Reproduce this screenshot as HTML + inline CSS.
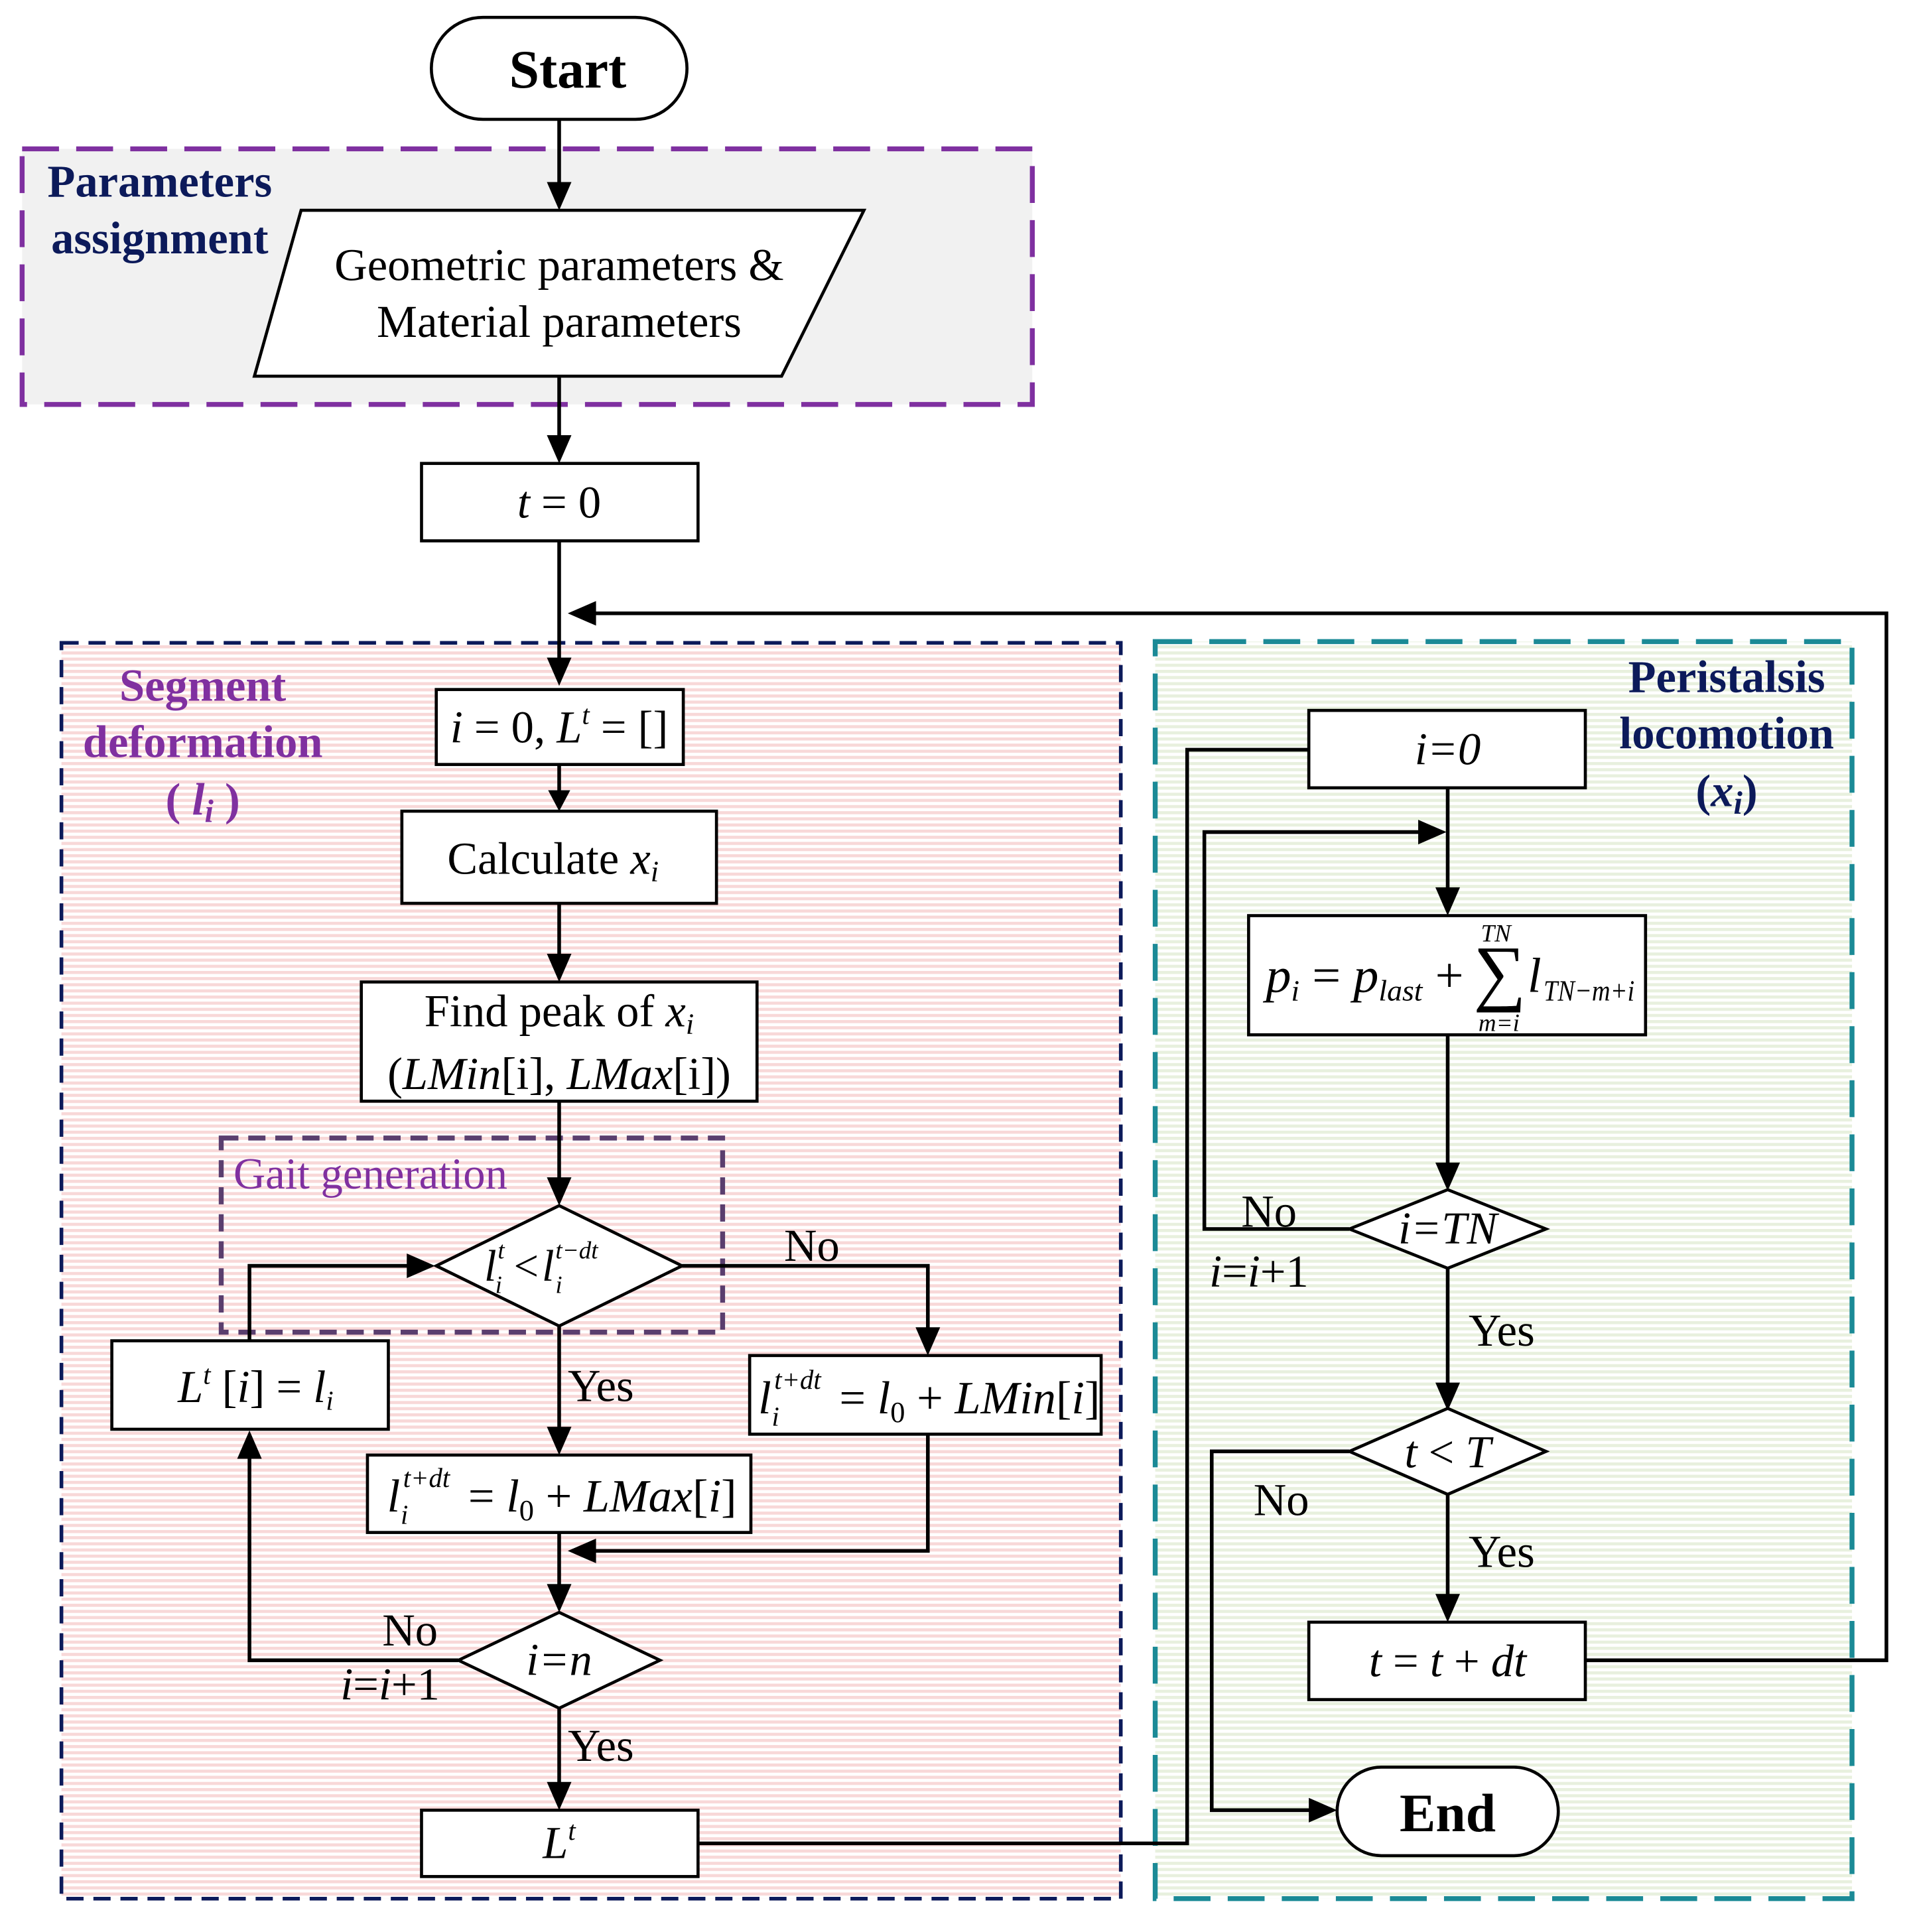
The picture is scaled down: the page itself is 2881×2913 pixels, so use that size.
<!DOCTYPE html>
<html><head><meta charset="utf-8"><style>
html,body{margin:0;padding:0;background:#fff;}
svg{display:block;}
text{font-family:"Liberation Serif",serif;fill:#000;}
.i{font-style:italic;}
</style></head><body>
<svg width="2881" height="2913" viewBox="0 0 1555 1572" xmlns="http://www.w3.org/2000/svg">
<defs>
<pattern id="pk" width="8" height="5" patternUnits="userSpaceOnUse"><rect width="8" height="5" fill="#fff"/><rect width="8" height="2.5" fill="#f8d8d8"/></pattern>
<pattern id="gr" width="8" height="5" patternUnits="userSpaceOnUse"><rect width="8" height="5" fill="#fff"/><rect width="8" height="2.5" fill="#e8f0de"/></pattern>
</defs>

<rect x="18" y="121" width="822" height="208" fill="#f1f1f1" stroke="#7f30a0" stroke-width="4" stroke-dasharray="30 14"/>
<rect x="50" y="523" width="862" height="1022" fill="url(#pk)" stroke="#0c1a5a" stroke-width="3" stroke-dasharray="14 8"/>
<rect x="940" y="522" width="567" height="1023" fill="url(#gr)" stroke="#1b8a96" stroke-width="4" stroke-dasharray="30 14"/>
<rect x="180" y="926" width="408" height="158" fill="none" stroke="#5a3e6e" stroke-width="4" stroke-dasharray="14 8"/>

<g font-weight="bold" font-size="37" text-anchor="middle">
<text x="130" y="160" style="fill:#0c1a5a">Parameters</text>
<text x="130" y="206" style="fill:#0c1a5a">assignment</text>
<text x="165" y="570" style="fill:#8030a0">Segment</text>
<text x="165" y="616" style="fill:#8030a0">deformation</text>
<text x="165" y="663" style="fill:#8030a0">( <tspan class="i">l</tspan><tspan class="i" font-size="26" dy="6">i</tspan><tspan dy="-6"> )</tspan></text>
<text x="1405" y="563" style="fill:#0c1a5a">Peristalsis</text>
<text x="1405" y="609" style="fill:#0c1a5a">locomotion</text>
<text x="1405" y="656" style="fill:#0c1a5a">(<tspan class="i">x</tspan><tspan class="i" font-size="26" dy="6">i</tspan><tspan dy="-6">)</tspan></text>
</g>
<text x="190" y="967" font-size="36" style="fill:#8030a0">Gait generation</text>

<g stroke="#000" stroke-width="3" fill="none">
<line x1="455" y1="97" x2="455" y2="150"/>
<line x1="455" y1="306" x2="455" y2="356"/>
<line x1="455" y1="440" x2="455" y2="537"/>
<polyline points="1291,1351 1535,1351 1535,499 482,499"/>
<line x1="455" y1="622" x2="455" y2="645"/>
<line x1="455" y1="735" x2="455" y2="778"/>
<line x1="455" y1="896" x2="455" y2="960"/>
<polyline points="555,1030 755,1030 755,1082"/>
<line x1="455" y1="1079" x2="455" y2="1163"/>
<polyline points="755,1167 755,1262 482,1262"/>
<line x1="455" y1="1247" x2="455" y2="1291"/>
<polyline points="373,1351 203,1351 203,1185"/>
<polyline points="203,1091 203,1030 333,1030"/>
<line x1="455" y1="1390" x2="455" y2="1452"/>
<polyline points="568,1500 966,1500 966,610 1065,610"/>
<line x1="1178" y1="641" x2="1178" y2="724"/>
<polyline points="1098,1000 980,1000 980,677 1156,677"/>
<line x1="1178" y1="842" x2="1178" y2="948"/>
<line x1="1178" y1="1032" x2="1178" y2="1127"/>
<polyline points="1098,1181 986,1181 986,1473 1067,1473"/>
<line x1="1178" y1="1216" x2="1178" y2="1299"/>
</g>
<g fill="#000">
<polygon points="445,148 465,148 455,171"/>
<polygon points="445,354 465,354 455,377"/>
<polygon points="445,535 465,535 455,558"/>
<polygon points="485,489 485,509 462,499"/>
<polygon points="446,643 464,643 455,660"/>
<polygon points="445,776 465,776 455,799"/>
<polygon points="445,958 465,958 455,981"/>
<polygon points="745,1080 765,1080 755,1103"/>
<polygon points="445,1161 465,1161 455,1184"/>
<polygon points="485,1252 485,1272 462,1262"/>
<polygon points="445,1289 465,1289 455,1312"/>
<polygon points="193,1187 213,1187 203,1164"/>
<polygon points="331,1020 331,1040 354,1030"/>
<polygon points="445,1450 465,1450 455,1473"/>
<polygon points="1168,722 1188,722 1178,745"/>
<polygon points="1154,667 1154,687 1177,677"/>
<polygon points="1168,946 1188,946 1178,969"/>
<polygon points="1168,1125 1188,1125 1178,1148"/>
<polygon points="1065,1463 1065,1483 1088,1473"/>
<polygon points="1168,1297 1188,1297 1178,1320"/>
</g>

<g stroke="#000" stroke-width="2.5" fill="#fff">
<rect x="351" y="14" width="208" height="83" rx="42"/>
<polygon points="245,171 703,171 636,306 207,306"/>
<rect x="343" y="377" width="225" height="63"/>
<rect x="355" y="561" width="201" height="61"/>
<rect x="327" y="660" width="256" height="75"/>
<rect x="294" y="799" width="322" height="97"/>
<polygon points="355,1030 455,981 555,1030 455,1079"/>
<rect x="610" y="1103" width="286" height="64"/>
<rect x="299" y="1184" width="312" height="63"/>
<polygon points="373,1351 455,1312 537,1351 455,1390"/>
<rect x="91" y="1091" width="225" height="72"/>
<rect x="343" y="1473" width="225" height="54"/>
<rect x="1065" y="578" width="225" height="63"/>
<rect x="1016" y="745" width="323" height="97"/>
<polygon points="1098,1000 1178,968 1258,1000 1178,1032"/>
<polygon points="1098,1181 1178,1146 1258,1181 1178,1216"/>
<rect x="1065" y="1320" width="225" height="63"/>
<rect x="1088" y="1438" width="180" height="72" rx="36"/>
</g>

<g font-size="37" text-anchor="middle">
<text x="462" y="71" font-size="44" font-weight="bold">Start</text>
<text x="455" y="228">Geometric parameters  &amp;</text>
<text x="455" y="274">Material parameters</text>
<text x="455" y="421"><tspan class="i">t</tspan> = 0</text>
<text x="455" y="604"><tspan class="i">i</tspan> = 0, <tspan class="i">L</tspan><tspan class="i" font-size="22" dy="-15">t</tspan><tspan dy="15"> = []</tspan></text>
<text x="450" y="711">Calculate <tspan class="i">x</tspan><tspan class="i" font-size="24" dy="6">i</tspan></text>
<text x="455" y="835">Find peak of <tspan class="i">x</tspan><tspan class="i" font-size="24" dy="6">i</tspan></text>
<text x="455" y="886">(<tspan class="i">LMin</tspan>[i], <tspan class="i">LMax</tspan>[i])</text>
<text x="455" y="1363" class="i">i=n</text>
<text x="208" y="1141"><tspan class="i">L</tspan><tspan class="i" font-size="22" dy="-15">t</tspan><tspan dy="15"> [</tspan><tspan class="i">i</tspan>] = <tspan class="i">l</tspan><tspan class="i" font-size="22" dy="6">i</tspan></text>
<text x="455" y="1512"><tspan class="i">L</tspan><tspan class="i" font-size="22" dy="-15">t</tspan></text>
<text x="1178" y="622" class="i">i=0</text>
<text x="1178" y="1012" class="i">i=TN</text>
<text x="1178" y="1194"><tspan class="i">t</tspan> &lt; <tspan class="i">T</tspan></text>
<text x="1178" y="1364"><tspan class="i">t</tspan> = <tspan class="i">t</tspan> + <tspan class="i">dt</tspan></text>
<text x="1178" y="1490" font-size="44" font-weight="bold">End</text>
</g>

<g font-size="36">
<text x="394" y="1042" class="i">l</text>
<text x="405" y="1024" class="i" font-size="20">t</text>
<text x="403" y="1052" class="i" font-size="20">i</text>
<text x="418" y="1042">&lt;</text>
<text x="441" y="1042" class="i">l</text>
<text x="452" y="1024" class="i" font-size="20">t−dt</text>
<text x="452" y="1052" class="i" font-size="20">i</text>
</g>
<g font-size="38">
<text x="617" y="1150" class="i">l</text>
<text x="630" y="1130" class="i" font-size="22">t+dt</text>
<text x="628" y="1160" class="i" font-size="22">i</text>
<text x="683" y="1150">= <tspan class="i">l</tspan><tspan font-size="24" dy="7">0</tspan><tspan dy="-7"> + </tspan><tspan class="i">LMin</tspan>[<tspan class="i">i</tspan>]</text>
</g>
<g font-size="38">
<text x="315" y="1230" class="i">l</text>
<text x="328" y="1210" class="i" font-size="22">t+dt</text>
<text x="326" y="1240" class="i" font-size="22">i</text>
<text x="381" y="1230">= <tspan class="i">l</tspan><tspan font-size="24" dy="7">0</tspan><tspan dy="-7"> + </tspan><tspan class="i">LMax</tspan>[<tspan class="i">i</tspan>]</text>
</g>
<g font-size="40">
<text x="1030" y="807" textLength="161" lengthAdjust="spacingAndGlyphs"><tspan class="i">p</tspan><tspan class="i" font-size="24" dy="7">i</tspan><tspan dy="-7"> = </tspan><tspan class="i">p</tspan><tspan class="i" font-size="24" dy="7">last</tspan><tspan dy="-7"> +</tspan></text>
<text x="1199" y="811" font-size="60">∑</text>
<text x="1243" y="807" class="i">l</text>
<text x="1256" y="814" class="i" font-size="24" textLength="74" lengthAdjust="spacingAndGlyphs">TN−m+i</text>
<text x="1205" y="766" class="i" font-size="20">TN</text>
<text x="1203" y="839" class="i" font-size="20">m=i</text>
</g>
<g font-size="37">
<text x="638" y="1026">No</text>
<text x="462" y="1140">Yes</text>
<text x="311" y="1339">No</text>
<text x="277" y="1383" class="i">i<tspan font-style="normal">=</tspan>i<tspan font-style="normal">+1</tspan></text>
<text x="462" y="1433">Yes</text>
<text x="1010" y="998">No</text>
<text x="984" y="1047" class="i">i<tspan font-style="normal">=</tspan>i<tspan font-style="normal">+1</tspan></text>
<text x="1195" y="1095">Yes</text>
<text x="1020" y="1233">No</text>
<text x="1195" y="1275">Yes</text>
</g>
</svg>
</body></html>
